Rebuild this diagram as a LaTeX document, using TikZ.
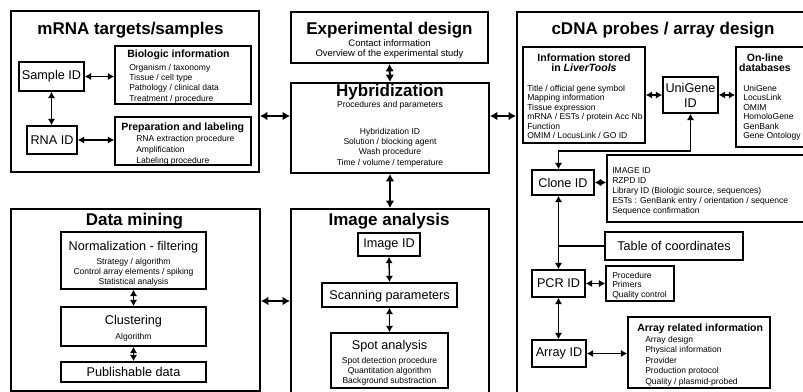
\documentclass[tikz,border=0pt]{standalone}
\usepackage{fontspec}
\setmainfont{Liberation Sans}
\usetikzlibrary{fit,arrows.meta}
\begin{document}
\begin{tikzpicture}[x=0.75pt,y=-0.75pt,
  outer/.style={draw,line width=1.5pt,inner sep=0pt,fit={#1}},
  inbox/.style={draw,line width=1.1pt,inner sep=0pt,fit={#1}},
  ttl/.style={anchor=base,inner sep=0pt,font=\fontsize{12.75}{15}\selectfont\bfseries},
  lbl/.style={anchor=base,inner sep=0pt,font=\fontsize{9.5}{11}\selectfont},
  clbl/.style={anchor=center,inner sep=0pt,align=center,font=\fontsize{9.5}{11.25}\selectfont},
  sub/.style={inner sep=0pt,font=\fontsize{7.9}{7.5}\selectfont\bfseries},
  sm/.style={inner sep=0pt,anchor=north west,align=left,font=\fontsize{6.4}{#1}\selectfont},
  smc/.style={inner sep=0pt,anchor=north,align=center,font=\fontsize{6.4}{#1}\selectfont},
  dbl/.style={{Latex[length=4.8pt,width=5.5pt]}-{Latex[length=4.8pt,width=5.5pt]},line width=1.1pt},
  big/.style={{Latex[length=5.5pt,width=6.5pt]}-{Latex[length=5.5pt,width=6.5pt]},line width=1.5pt},
  plain/.style={line width=1.1pt}]
\clip (0,0) rectangle (803,392);
\fill[white] (0,0) rectangle (803,392);

% ---------------- mRNA targets / samples
\node[outer={(11,11) (259,172)}] (mrna) {};
\node[ttl] (mrnaT) at (130.5,34.5) {mRNA targets/samples};
\node[inbox={(19,62) (84,91)}] (sample) {};
\node[clbl] (sampleT) at (sample.center) {Sample ID};
\node[inbox={(27,126) (77,154)}] (rna) {};
\node[clbl] (rnaT) at (rna.center) {RNA ID};
\node[inbox={(115,46) (251,104)}] (bio) {};
\node[sub,anchor=base west] (bioT) at (127,58) {Biologic information};
\node[sm=7.7pt] (bioL) at (129,63.8) {Organism / taxonomy\\Tissue / cell type\\Pathology / clinical data\\Treatment / procedure};
\node[inbox={(115,117) (251,165)}] (prep) {};
\node[sub,anchor=base west] (prepT) at (121,131) {Preparation and labeling};
\node[sm=8.25pt] (prepL) at (136,134.8) {RNA extraction procedure\\Amplification\\Labeling procedure};
\draw[dbl] (sample.east) -- (bio.west |- sample.east);
\draw[dbl] (sample.south) -- (sample.south |- rna.north);
\draw[dbl] (rna.east) -- (prep.west |- rna.east);

% ---------------- Experimental design
\node[outer={(291,12) (488,63)}] (exp) {};
\node[ttl] (expT) at (389.5,34.5) {Experimental design};
\node[smc=7.5pt,font=\fontsize{7.1}{7.5}\selectfont] (expL) at (389.5,39.5) {Contact information\\Overview of the experimental study};

% ---------------- Hybridization
\node[outer={(291,83) (489,173)}] (hyb) {};
\node[ttl] (hybT) at (390,96.5) {Hybridization};
\node[anchor=base,inner sep=0pt,font=\fontsize{6.4}{7.7}\selectfont] (hybP) at (390,107.5) {Procedures and parameters};
\node[smc=7.7pt] (hybL) at (390,127.8) {Hybridization ID\\Solution / blocking agent\\Wash procedure\\Time / volume / temperature};
\draw[big] (exp.south) -- (hyb.north);

% ---------------- Data mining
\node[outer={(11,209) (260,391)}] (dm) {};
\node[ttl] (dmT) at (134.5,225) {Data mining};
\node[inbox={(61,232) (206,289)}] (norm) {};
\node[lbl] (normT) at (133.5,250.6) {Normalization - filtering};
\node[smc=7.5pt] (normL) at (133.5,257.8) {Strategy / algorithm\\Control array elements / spiking\\Statistical analysis};
\node[inbox={(61,307) (206,346)}] (clust) {};
\node[lbl] (clustT) at (133.5,324.6) {Clustering};
\node[anchor=base,inner sep=0pt,font=\fontsize{6.4}{7.7}\selectfont] (clustL) at (133.5,339) {Algorithm};
\node[inbox={(61,362) (206,382)}] (pub) {};
\node[lbl] (pubT) at (133.5,376.5) {Publishable data};
\draw[dbl] (norm.south) -- (clust.north);
\draw[dbl] (clust.south) -- (pub.north);

% ---------------- Image analysis
\node[outer={(291,209) (489,396)}] (img) {};
\node[ttl] (imgT) at (389,225.5) {Image analysis};
\node[inbox={(358,233) (420,256)}] (imgid) {};
\node[clbl] (imgidT) at (imgid.center) {Image ID};
\node[inbox={(322,283) (457,307)}] (scan) {};
\node[lbl] (scanT) at (389.5,299.5) {Scanning parameters};
\node[inbox={(331,333) (448,388)}] (spot) {};
\node[lbl] (spotT) at (389.5,349.6) {Spot analysis};
\node[smc=7.5pt] (spotL) at (389.5,356.8) {Spot detection procedure\\Quantitation algorithm\\Background substraction};
\draw[dbl] (imgid.south) -- (scan.north);
\draw[dbl] (scan.south) -- (spot.north);
\draw[big] (hyb.south) -- (img.north);

% ---------------- cDNA probes / array design
\node[outer={(517,12) (830,400)}] (cdna) {};
\node[ttl] (cdnaT) at (663,34.5) {cDNA probes / array design};
\node[inbox={(523,47) (645,143)}] (info) {};
\node[sub,anchor=north,align=center] (infoT) at (584,53.3) {Information stored\\in \textit{LiverTools}};
\node[sm=7.1pt] (infoL) at (527,84.8) {Title / official gene symbol\\Mapping information\\Tissue expression\\mRNA / ESTs / protein Acc Nb\\Function\\OMIM / LocusLink / GO ID};
\node[inbox={(663,77) (718,113)}] (uni) {};
\node[clbl] (uniT) at (uni.center) {UniGene\\ID};
\node[inbox={(736,47) (830,147)}] (online) {};
\node[sub,anchor=north,align=center] (onlineT) at (765,53.3) {On-line\\databases};
\node[sm=7.1pt] (onlineL) at (743,84.8) {UniGene\\LocusLink\\OMIM\\HomoloGene\\GenBank\\Gene Ontology};
\draw[dbl] (info.east |- uni.west) -- (uni.west);
\draw[dbl] (uni.east) -- (online.west |- uni.east);

\node[inbox={(532,170) (594,195)}] (clone) {};
\node[clbl] (cloneT) at (clone.center) {Clone ID};
\node[inbox={(607,155) (830,222)}] (cinfo) {};
\node[sm=7.65pt] (cinfoL) at (612,166.8) {IMAGE ID\\RZPD ID\\Library ID (Biologic source, sequences)\\ESTs : GenBank entry / orientation / sequence\\Sequence confirmation};
\node[inbox={(605,232) (743,260)}] (tab) {};
\node[clbl] (tabT) at (tab.center) {Table of coordinates};
\node[inbox={(532,270) (585,297)}] (pcr) {};
\node[clbl] (pcrT) at (pcr.center) {PCR ID};
\node[inbox={(606,266) (674,301)}] (proc) {};
\node[sm=7.1pt] (procL) at (612,271.8) {Procedure\\Primers\\Quality control};
\node[inbox={(532,340) (586,367)}] (arr) {};
\node[clbl] (arrT) at (arr.center) {Array ID};
\node[inbox={(628,317) (770,388)}] (ari) {};
\node[sub,anchor=base west] (ariT) at (637,331) {Array related information};
\node[sm=7.9pt] (ariL) at (645,335.8) {Array design\\Physical information\\Provider\\Production protocol\\Quality / plasmid-probed};

\coordinate (turn) at (690,151);
\draw[dbl] (uni.south) -- (uni.south |- turn) -| (clone.north -| pcr.north);
\draw[dbl] (clone.east) -- (cinfo.west |- clone.east);
\draw[dbl] (clone.south -| pcr.north) -- (pcr.north);
\draw[plain] (tab.west) -- (tab.west -| pcr.north);
\draw[dbl] (pcr.east) -- (proc.west |- pcr.east);
\draw[dbl] (pcr.south) -- (arr.north -| pcr.south);
\draw[dbl] (arr.east) -- (ari.west |- arr.east);

% ---------------- links between panels
\draw[big] (mrna.east |- 0,116) -- (hyb.west |- 0,116);
\draw[big] (hyb.east |- 0,116) -- (cdna.west |- 0,116);
\draw[big] (dm.east |- 0,301) -- (img.west |- 0,301);
\end{tikzpicture}
\end{document}
